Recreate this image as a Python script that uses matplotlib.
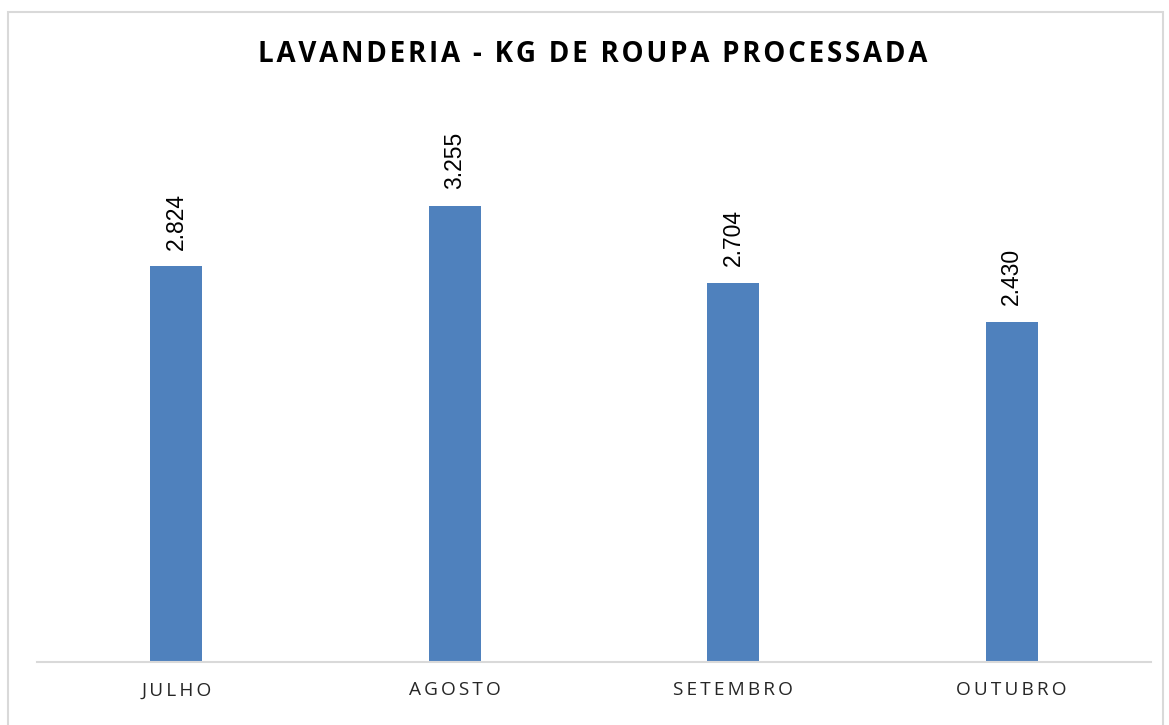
import matplotlib
matplotlib.use("Agg")
import matplotlib.pyplot as plt
from matplotlib.patches import Rectangle

# Data
months = ["JULHO", "AGOSTO", "SETEMBRO", "OUTUBRO"]
kg_processed = [2824, 3255, 2704, 2430]
title = "LAVANDERIA - KG DE ROUPA PROCESSADA"

BAR_COLOR = "#4F81BD"
GRID_GRAY = "#D9D9D9"
FAMILY = ["Open Sans", "DejaVu Sans"]


def fmt_pt(v):
    # Thousands separator as a dot (pt-BR style)
    return f"{v:,}".replace(",", ".")


def spaced(s, sep="\u2009"):
    return sep.join(list(s))


W, H = 1169, 725
fig = plt.figure(figsize=(W / 100, H / 100), dpi=100)

# Outer chart border
fig.patches.append(Rectangle((8 / W, -0.02), (1163 - 8) / W, 1.02 - 12 / H,
                             transform=fig.transFigure, fill=False,
                             edgecolor=GRID_GRAY, linewidth=1.5))

ax = fig.add_axes([37 / W, 63 / H, (1151 - 37) / W, 490.4 / H])
x = list(range(len(months)))
ax.bar(x, kg_processed, width=0.187, color=BAR_COLOR, zorder=2)
ax.set_xlim(-0.5, 3.5)
ax.set_ylim(0, 3500)

for s in ["top", "right", "left"]:
    ax.spines[s].set_visible(False)
ax.spines["bottom"].set_color(GRID_GRAY)
ax.spines["bottom"].set_linewidth(1.5)
ax.set_yticks([])
ax.set_xticks(x)
ax.set_xticklabels([spaced(m) for m in months], family=FAMILY,
                   fontsize=13.7, color="#262626")
ax.tick_params(axis="x", length=0, pad=14)

for xi, v in zip(x, kg_processed):
    ax.annotate(fmt_pt(v), (xi, v), xytext=(0, 12), textcoords="offset points",
                rotation=90, ha="center", va="bottom",
                family=["Liberation Sans", "DejaVu Sans"], fontsize=16.5,
                color="#000000")

fig.text(593 / W, 1 - 55 / H, spaced(title, "\u200a"), ha="center", va="center",
         family=FAMILY, fontsize=20, fontweight="bold", color="#000000")

fig.savefig("out.png", dpi=100)
